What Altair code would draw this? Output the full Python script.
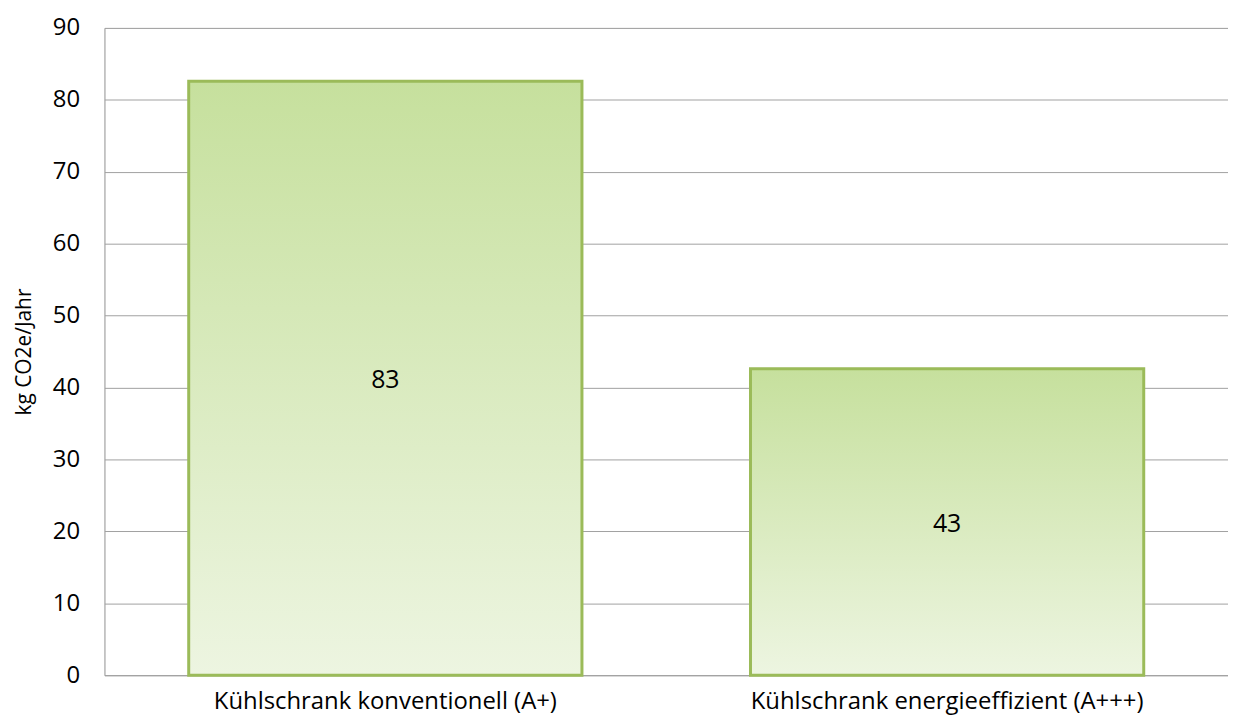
import altair as alt
import pandas as pd

categories = ["Kühlschrank konventionell (A+)", "Kühlschrank energieeffizient (A+++)"]
values = [82.6, 42.6]
labels = ["83", "43"]

df = pd.DataFrame({"cat": categories, "val": values, "lab": labels})
df["mid"] = df["val"] / 2

FONT = "Open Sans"

grad = alt.Gradient(
    gradient="linear",
    stops=[alt.GradientStop(color="#c6e09d", offset=0),
           alt.GradientStop(color="#edf5e1", offset=1)],
    x1=0, x2=0, y1=0, y2=1,
)

xenc = alt.X("cat:N", sort=categories, title=None,
             scale=alt.Scale(paddingInner=0.3, paddingOuter=0.15),
             axis=alt.Axis(labelAngle=0, labelFontSize=24, labelFont=FONT, labelColor="#000000",
                           ticks=False, domainColor="#a0a0a0", labelPadding=14, labelLimit=700))

bars = alt.Chart(df).mark_bar(fill=grad, stroke="#9bbb59", strokeWidth=3).encode(
    x=xenc,
    y=alt.Y("val:Q", title="kg CO2e/Jahr",
            scale=alt.Scale(domain=[0, 90]),
            axis=alt.Axis(values=list(range(0, 91, 10)), ticks=False, labelFontSize=24,
                          labelFont=FONT, labelColor="#000000", labelPadding=25,
                          domainColor="#a0a0a0", gridColor="#a0a0a0", gridWidth=1,
                          titleFont=FONT, titleFontSize=21, titleFontWeight="normal",
                          titleColor="#000000", titlePadding=18)),
)

text = alt.Chart(df).mark_text(fontSize=25, font=FONT, color="#000000", baseline="middle", dy=2).encode(
    x=alt.X("cat:N", sort=categories),
    y=alt.Y("mid:Q"),
    text="lab:N",
)

chart = (bars + text).properties(
    width=1130, height=651,
    padding={"left": 5, "top": 6, "right": 0, "bottom": 0},
).configure_view(stroke=None).configure(background="white")

chart.save("out.html", embed_options={"renderer": "svg", "actions": False})
